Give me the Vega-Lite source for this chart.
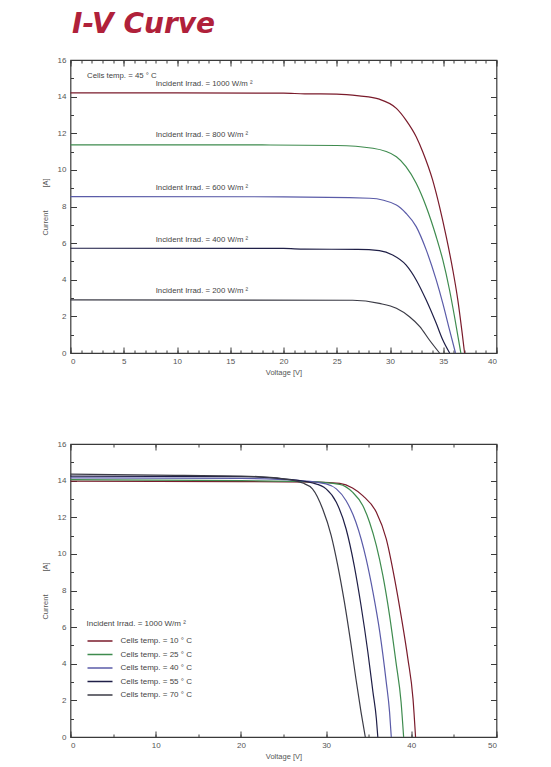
{
  "$schema": "https://vega.github.io/schema/vega-lite/v6.json",
  "padding": {"left": 40.5, "top": 11, "right": 10, "bottom": 5},
  "title": {"text": "I-V Curve", "anchor": "start", "font": "DejaVu Sans", "fontSize": 28, "fontStyle": "oblique", "fontWeight": "bold", "color": "#b0213a", "dx": 31.5, "offset": 16},
  "resolve": {"scale": {"color": "independent"}, "legend": {"color": "independent"}},
  "datasets": {
    "top": [
      {"irr": "1000", "V": 0, "I": 14.2}, {"irr": "1000", "V": 10, "I": 14.2}, {"irr": "1000", "V": 20, "I": 14.19}, {"irr": "1000", "V": 22, "I": 14.15}, {"irr": "1000", "V": 25, "I": 14.14},
      {"irr": "1000", "V": 27.1, "I": 14.04}, {"irr": "1000", "V": 29.0, "I": 13.86}, {"irr": "1000", "V": 30.6, "I": 13.36}, {"irr": "1000", "V": 31.5, "I": 12.72}, {"irr": "1000", "V": 32.46, "I": 11.81},
      {"irr": "1000", "V": 33.1, "I": 10.95}, {"irr": "1000", "V": 34.0, "I": 9.45}, {"irr": "1000", "V": 34.65, "I": 7.99}, {"irr": "1000", "V": 35.28, "I": 6.35}, {"irr": "1000", "V": 35.9, "I": 4.53},
      {"irr": "1000", "V": 36.37, "I": 2.89}, {"irr": "1000", "V": 36.78, "I": 1.07}, {"irr": "1000", "V": 37.0, "I": 0},
      {"irr": "800", "V": 0, "I": 11.37}, {"irr": "800", "V": 10, "I": 11.37}, {"irr": "800", "V": 18, "I": 11.36}, {"irr": "800", "V": 25, "I": 11.33}, {"irr": "800", "V": 28.4, "I": 11.18},
      {"irr": "800", "V": 30.6, "I": 10.72}, {"irr": "800", "V": 31.5, "I": 10.18}, {"irr": "800", "V": 32.46, "I": 9.27}, {"irr": "800", "V": 33.4, "I": 7.99}, {"irr": "800", "V": 34.34, "I": 6.35},
      {"irr": "800", "V": 34.96, "I": 5.08}, {"irr": "800", "V": 35.59, "I": 3.44}, {"irr": "800", "V": 36.06, "I": 1.98}, {"irr": "800", "V": 36.65, "I": 0},
      {"irr": "600", "V": 0, "I": 8.54}, {"irr": "600", "V": 20, "I": 8.53}, {"irr": "600", "V": 28.1, "I": 8.45}, {"irr": "600", "V": 30.6, "I": 8.08}, {"irr": "600", "V": 31.5, "I": 7.63},
      {"irr": "600", "V": 32.46, "I": 6.9}, {"irr": "600", "V": 33.4, "I": 5.63}, {"irr": "600", "V": 34.34, "I": 3.99}, {"irr": "600", "V": 34.96, "I": 2.71}, {"irr": "600", "V": 35.59, "I": 1.26}, {"irr": "600", "V": 36.15, "I": 0},
      {"irr": "400", "V": 0, "I": 5.72}, {"irr": "400", "V": 20, "I": 5.71}, {"irr": "400", "V": 22, "I": 5.67}, {"irr": "400", "V": 27, "I": 5.66}, {"irr": "400", "V": 29.0, "I": 5.59},
      {"irr": "400", "V": 30.25, "I": 5.35}, {"irr": "400", "V": 31.5, "I": 4.81}, {"irr": "400", "V": 32.46, "I": 3.99}, {"irr": "400", "V": 33.4, "I": 2.89}, {"irr": "400", "V": 34.34, "I": 1.62},
      {"irr": "400", "V": 34.96, "I": 0.71}, {"irr": "400", "V": 35.6, "I": 0},
      {"irr": "200", "V": 0, "I": 2.9}, {"irr": "200", "V": 26.5, "I": 2.88}, {"irr": "200", "V": 29.0, "I": 2.71}, {"irr": "200", "V": 30.6, "I": 2.44}, {"irr": "200", "V": 31.83, "I": 1.98},
      {"irr": "200", "V": 32.8, "I": 1.44}, {"irr": "200", "V": 33.7, "I": 0.71}, {"irr": "200", "V": 34.65, "I": 0}
    ],
    "topLabels": [
      {"V": 1.55, "I": 15.15, "label": "Cells temp. = 45 ° C"},
      {"V": 8, "I": 14.7, "label": "Incident Irrad. = 1000 W/m ²"},
      {"V": 8, "I": 11.92, "label": "Incident Irrad. = 800 W/m ²"},
      {"V": 8, "I": 9.03, "label": "Incident Irrad. = 600 W/m ²"},
      {"V": 8, "I": 6.19, "label": "Incident Irrad. = 400 W/m ²"},
      {"V": 8, "I": 3.4, "label": "Incident Irrad. = 200 W/m ²"}
    ],
    "bottom": [
      {"temp": "Cells temp. = 10 ° C", "V": 0, "I": 13.97}, {"temp": "Cells temp. = 10 ° C", "V": 20, "I": 13.95}, {"temp": "Cells temp. = 10 ° C", "V": 29, "I": 13.92}, {"temp": "Cells temp. = 10 ° C", "V": 31.6, "I": 13.85},
      {"temp": "Cells temp. = 10 ° C", "V": 33.1, "I": 13.6}, {"temp": "Cells temp. = 10 ° C", "V": 34.3, "I": 13.18}, {"temp": "Cells temp. = 10 ° C", "V": 35.9, "I": 12.27}, {"temp": "Cells temp. = 10 ° C", "V": 37.06, "I": 10.82},
      {"temp": "Cells temp. = 10 ° C", "V": 38.04, "I": 8.64}, {"temp": "Cells temp. = 10 ° C", "V": 38.8, "I": 6.63}, {"temp": "Cells temp. = 10 ° C", "V": 39.6, "I": 4.27}, {"temp": "Cells temp. = 10 ° C", "V": 40.2, "I": 2.09}, {"temp": "Cells temp. = 10 ° C", "V": 40.5, "I": 0},
      {"temp": "Cells temp. = 25 ° C", "V": 0, "I": 14.05}, {"temp": "Cells temp. = 25 ° C", "V": 20, "I": 14.0}, {"temp": "Cells temp. = 25 ° C", "V": 28, "I": 13.95}, {"temp": "Cells temp. = 25 ° C", "V": 31.6, "I": 13.8},
      {"temp": "Cells temp. = 25 ° C", "V": 33.1, "I": 13.37}, {"temp": "Cells temp. = 25 ° C", "V": 34.3, "I": 12.64}, {"temp": "Cells temp. = 25 ° C", "V": 35.1, "I": 11.73}, {"temp": "Cells temp. = 25 ° C", "V": 35.9, "I": 10.45},
      {"temp": "Cells temp. = 25 ° C", "V": 36.66, "I": 8.82}, {"temp": "Cells temp. = 25 ° C", "V": 37.45, "I": 6.63}, {"temp": "Cells temp. = 25 ° C", "V": 38.2, "I": 4.09}, {"temp": "Cells temp. = 25 ° C", "V": 38.8, "I": 1.91}, {"temp": "Cells temp. = 25 ° C", "V": 39.1, "I": 0},
      {"temp": "Cells temp. = 40 ° C", "V": 0, "I": 14.15}, {"temp": "Cells temp. = 40 ° C", "V": 20, "I": 14.12}, {"temp": "Cells temp. = 40 ° C", "V": 27, "I": 14.0}, {"temp": "Cells temp. = 40 ° C", "V": 30.0, "I": 13.82},
      {"temp": "Cells temp. = 40 ° C", "V": 31.2, "I": 13.55}, {"temp": "Cells temp. = 40 ° C", "V": 32.35, "I": 12.9}, {"temp": "Cells temp. = 40 ° C", "V": 33.5, "I": 11.73}, {"temp": "Cells temp. = 40 ° C", "V": 34.7, "I": 9.73},
      {"temp": "Cells temp. = 40 ° C", "V": 35.5, "I": 7.91}, {"temp": "Cells temp. = 40 ° C", "V": 36.3, "I": 5.73}, {"temp": "Cells temp. = 40 ° C", "V": 37.06, "I": 3.0}, {"temp": "Cells temp. = 40 ° C", "V": 37.45, "I": 1.36}, {"temp": "Cells temp. = 40 ° C", "V": 37.65, "I": 0},
      {"temp": "Cells temp. = 55 ° C", "V": 0, "I": 14.25}, {"temp": "Cells temp. = 55 ° C", "V": 20, "I": 14.22}, {"temp": "Cells temp. = 55 ° C", "V": 25, "I": 14.1}, {"temp": "Cells temp. = 55 ° C", "V": 28.4, "I": 13.87},
      {"temp": "Cells temp. = 55 ° C", "V": 30.0, "I": 13.55}, {"temp": "Cells temp. = 55 ° C", "V": 31.2, "I": 12.82}, {"temp": "Cells temp. = 55 ° C", "V": 32.35, "I": 11.36}, {"temp": "Cells temp. = 55 ° C", "V": 33.3, "I": 9.36},
      {"temp": "Cells temp. = 55 ° C", "V": 34.1, "I": 7.18}, {"temp": "Cells temp. = 55 ° C", "V": 34.9, "I": 4.64}, {"temp": "Cells temp. = 55 ° C", "V": 35.5, "I": 2.45}, {"temp": "Cells temp. = 55 ° C", "V": 35.9, "I": 1.0}, {"temp": "Cells temp. = 55 ° C", "V": 36.07, "I": 0},
      {"temp": "Cells temp. = 70 ° C", "V": 0, "I": 14.35}, {"temp": "Cells temp. = 70 ° C", "V": 10, "I": 14.3}, {"temp": "Cells temp. = 70 ° C", "V": 20, "I": 14.25}, {"temp": "Cells temp. = 70 ° C", "V": 25, "I": 14.1},
      {"temp": "Cells temp. = 70 ° C", "V": 27.25, "I": 13.87}, {"temp": "Cells temp. = 70 ° C", "V": 28.4, "I": 13.55}, {"temp": "Cells temp. = 70 ° C", "V": 29.6, "I": 12.45}, {"temp": "Cells temp. = 70 ° C", "V": 30.6, "I": 11.0},
      {"temp": "Cells temp. = 70 ° C", "V": 31.37, "I": 9.36}, {"temp": "Cells temp. = 70 ° C", "V": 32.15, "I": 7.36}, {"temp": "Cells temp. = 70 ° C", "V": 32.94, "I": 5.0}, {"temp": "Cells temp. = 70 ° C", "V": 33.5, "I": 3.18},
      {"temp": "Cells temp. = 70 ° C", "V": 34.1, "I": 1.36}, {"temp": "Cells temp. = 70 ° C", "V": 34.6, "I": 0}
    ]
  },
  "vconcat": [
    {
      "width": 426,
      "height": 293,
      "resolve": {"axis": {"x": "independent", "y": "independent"}},
      "layer": [
        {
          "data": {"name": "top"},
          "mark": {"type": "line", "interpolate": "monotone", "strokeWidth": 1.2},
          "encoding": {
            "x": {"field": "V", "type": "quantitative", "scale": {"domain": [0, 40], "nice": false},
                  "axis": {"orient": "bottom", "values": [0, 5, 10, 15, 20, 25, 30, 35, 40], "tickSize": -6, "labelPadding": 10.5, "title": "Voltage  [V]", "titlePadding": 3}},
            "y": {"field": "I", "type": "quantitative", "scale": {"domain": [0, 16], "nice": false},
                  "axis": {"orient": "left", "values": [0, 2, 4, 6, 8, 10, 12, 14, 16], "tickSize": -6, "labelPadding": 10.5, "title": "Current\u00a0\u00a0\u00a0\u00a0\u00a0\u00a0\u00a0\u00a0\u00a0\u00a0\u00a0[A]", "titlePadding": 8}},
            "color": {"field": "irr", "type": "nominal", "scale": {"domain": ["1000", "800", "600", "400", "200"], "range": ["#7a1b2b", "#3e8b4e", "#5a5ba8", "#1f1f47", "#3b3b46"]}, "legend": null},
            "detail": {"field": "irr"}
          }
        },
        {
          "data": {"name": "topLabels"},
          "mark": {"type": "text", "align": "left", "baseline": "middle", "fontSize": 7.8, "color": "#444", "font": "Liberation Sans"},
          "encoding": {
            "x": {"field": "V", "type": "quantitative", "axis": {"orient": "bottom", "values": [0,1,2,3,4,5,6,7,8,9,10,11,12,13,14,15,16,17,18,19,20,21,22,23,24,25,26,27,28,29,30,31,32,33,34,35,36,37,38,39,40], "tickSize": -3, "labels": false, "title": null}},
            "y": {"field": "I", "type": "quantitative", "axis": {"orient": "left", "values": [0,1,2,3,4,5,6,7,8,9,10,11,12,13,14,15,16], "tickSize": -3, "labels": false, "title": null}},
            "text": {"field": "label"}
          }
        },
        {
          "data": {"name": "topLabels"},
          "mark": {"type": "point", "opacity": 0},
          "encoding": {
            "x": {"field": "V", "type": "quantitative", "axis": {"orient": "top", "values": [0, 5, 10, 15, 20, 25, 30, 35, 40], "tickSize": -6, "labels": false, "title": null}},
            "y": {"field": "I", "type": "quantitative", "axis": {"orient": "right", "values": [0, 2, 4, 6, 8, 10, 12, 14, 16], "tickSize": -6, "labels": false, "title": null}}
          }
        },
        {
          "data": {"name": "topLabels"},
          "mark": {"type": "point", "opacity": 0},
          "encoding": {
            "x": {"field": "V", "type": "quantitative", "axis": {"orient": "top", "values": [0,1,2,3,4,5,6,7,8,9,10,11,12,13,14,15,16,17,18,19,20,21,22,23,24,25,26,27,28,29,30,31,32,33,34,35,36,37,38,39,40], "tickSize": -3, "labels": false, "title": null}},
            "y": {"field": "I", "type": "quantitative", "axis": {"orient": "right", "values": [0,1,2,3,4,5,6,7,8,9,10,11,12,13,14,15,16], "tickSize": -3, "labels": false, "title": null}}
          }
        }
      ]
    },
    {
      "width": 426,
      "height": 293,
      "resolve": {"axis": {"x": "independent", "y": "independent"}},
      "layer": [
        {
          "data": {"name": "bottom"},
          "mark": {"type": "line", "interpolate": "monotone", "strokeWidth": 1.2},
          "encoding": {
            "x": {"field": "V", "type": "quantitative", "scale": {"domain": [0, 50], "nice": false},
                  "axis": {"orient": "bottom", "values": [0, 10, 20, 30, 40, 50], "tickSize": -6, "labelPadding": 10.5, "title": "Voltage  [V]", "titlePadding": 3}},
            "y": {"field": "I", "type": "quantitative", "scale": {"domain": [0, 16], "nice": false},
                  "axis": {"orient": "left", "values": [0, 2, 4, 6, 8, 10, 12, 14, 16], "tickSize": -6, "labelPadding": 10.5, "title": "Current\u00a0\u00a0\u00a0\u00a0\u00a0\u00a0\u00a0\u00a0\u00a0\u00a0\u00a0[A]", "titlePadding": 8}},
            "color": {"field": "temp", "type": "nominal",
                      "scale": {"domain": ["Cells temp. = 10 ° C", "Cells temp. = 25 ° C", "Cells temp. = 40 ° C", "Cells temp. = 55 ° C", "Cells temp. = 70 ° C"], "range": ["#7a1b2b", "#3e8b4e", "#5a5ba8", "#1f1f47", "#3b3b46"]},
                      "legend": {"orient": "none", "legendX": 16, "legendY": 176, "title": "Incident Irrad. = 1000 W/m ²", "symbolType": "stroke", "symbolSize": 625, "symbolStrokeWidth": 1.6, "labelOffset": 7, "clipHeight": 12, "rowPadding": 1.5, "titlePadding": 7}}
          }
        },
        {
          "data": {"name": "bottom"},
          "mark": {"type": "point", "opacity": 0},
          "encoding": {
            "x": {"field": "V", "type": "quantitative", "axis": {"orient": "bottom", "values": [0, 5, 10, 15, 20, 25, 30, 35, 40, 45, 50], "tickSize": -3, "labels": false, "title": null}},
            "y": {"field": "I", "type": "quantitative", "axis": {"orient": "left", "values": [0,1,2,3,4,5,6,7,8,9,10,11,12,13,14,15,16], "tickSize": -3, "labels": false, "title": null}}
          }
        },
        {
          "data": {"name": "bottom"},
          "mark": {"type": "point", "opacity": 0},
          "encoding": {
            "x": {"field": "V", "type": "quantitative", "axis": {"orient": "top", "values": [0, 10, 20, 30, 40, 50], "tickSize": -6, "labels": false, "title": null}},
            "y": {"field": "I", "type": "quantitative", "axis": {"orient": "right", "values": [0, 2, 4, 6, 8, 10, 12, 14, 16], "tickSize": -6, "labels": false, "title": null}}
          }
        },
        {
          "data": {"name": "bottom"},
          "mark": {"type": "point", "opacity": 0},
          "encoding": {
            "x": {"field": "V", "type": "quantitative", "axis": {"orient": "top", "values": [0, 5, 10, 15, 20, 25, 30, 35, 40, 45, 50], "tickSize": -3, "labels": false, "title": null}},
            "y": {"field": "I", "type": "quantitative", "axis": {"orient": "right", "values": [0,1,2,3,4,5,6,7,8,9,10,11,12,13,14,15,16], "tickSize": -3, "labels": false, "title": null}}
          }
        }
      ]
    }
  ],
  "spacing": 91,
  "bounds": "flush",
  "config": {
    "view": {"stroke": "#3a3a3a", "strokeWidth": 1.2},
    "axis": {"grid": false, "domain": false, "labelFont": "Liberation Sans", "labelFontSize": 8, "labelColor": "#555", "titleFont": "Liberation Sans", "titleFontSize": 7.5, "titleFontWeight": "normal", "titleColor": "#555", "tickColor": "#3a3a3a", "tickWidth": 1},
    "legend": {"titleFont": "Liberation Sans", "titleFontSize": 8, "titleFontWeight": "normal", "titleColor": "#444", "labelFont": "Liberation Sans", "labelFontSize": 8, "labelColor": "#444"}
  }
}
